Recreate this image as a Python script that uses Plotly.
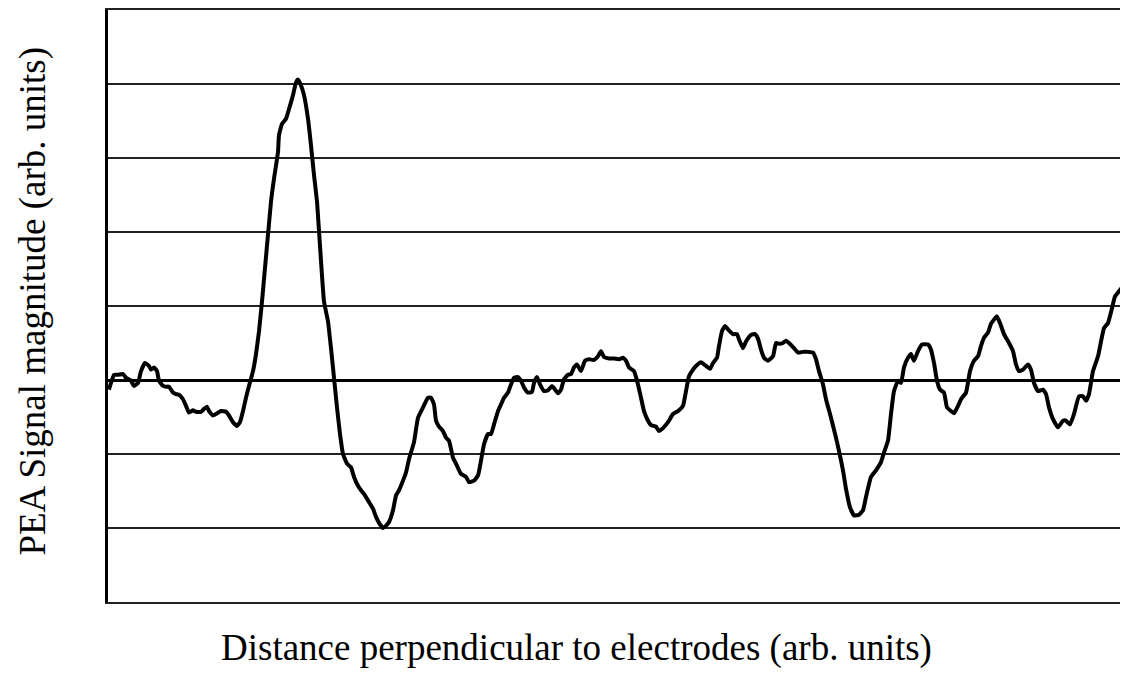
import plotly.graph_objects as go

# distance (arb. units) and PEA signal (arb. units)
distance = [
    1, 3, 6, 10, 15, 18, 23, 26, 30, 33, 37, 41, 43, 46, 49, 51, 55, 58, 61, 65,
    68, 71, 75, 78, 81, 85, 88, 93, 96, 99, 101, 105, 108, 113, 118, 121, 125, 129, 132, 135,
    138, 141, 145, 148, 151, 154, 163, 166, 170, 171, 174, 178, 181, 185, 188, 190, 193, 196, 200, 203,
    206, 209, 216, 220, 223, 226, 229, 232, 235, 239, 243, 246, 250, 253, 256, 261, 265, 268, 271, 275,
    278, 281, 285, 288, 291, 295, 298, 301, 306, 310, 315, 320, 323, 326, 328, 331, 335, 338, 341, 345,
    348, 353, 358, 361, 366, 370, 373, 376, 380, 383, 386, 390, 393, 396, 400, 403, 406, 410, 413, 416,
    420, 424, 426, 429, 432, 436, 440, 444, 446, 450, 453, 456, 460, 463, 466, 469, 473, 477, 481, 486,
    490, 493, 496, 501, 506, 511, 515, 518, 521, 526, 530, 533, 536, 540, 543, 548, 551, 555, 560, 565,
    570, 575, 578, 581, 585, 588, 593, 598, 602, 605, 609, 611, 614, 617, 621, 625, 629, 631, 635, 638,
    643, 647, 650, 653, 656, 660, 665, 668, 671, 675, 678, 681, 686, 690, 695, 700, 705, 708, 711, 715,
    718, 723, 728, 731, 735, 738, 742, 746, 751, 755, 758, 763, 768, 773, 776, 780, 783, 786, 790, 793,
    796, 800, 803, 806, 810, 814, 820, 823, 826, 829, 832, 836, 839, 843, 846, 850, 853, 858, 862, 866,
    870, 873, 876, 880, 883, 889, 892, 896, 901, 905, 908, 911, 915, 920, 923, 926, 930, 935, 938, 941,
    945, 950, 955, 958, 962, 966, 971, 975, 978, 981, 985, 990, 996, 1000, 1004, 1007, 1011, 1015, 1017, 1019,
    1021,
]
signal = [
    -0.13, -0.04, 0.07, 0.07, 0.08, 0.03, -0.01, -0.08, -0.04, 0.12, 0.23, 0.19, 0.14, 0.17, 0.12, -0.01, -0.08, -0.09, -0.09, -0.17,
    -0.19, -0.20, -0.26, -0.35, -0.44, -0.41, -0.43, -0.43, -0.39, -0.36, -0.42, -0.48, -0.46, -0.42, -0.43, -0.48, -0.57, -0.62, -0.57, -0.42,
    -0.24, -0.08, 0.12, 0.35, 0.66, 1.06, 2.41, 2.72, 3.08, 3.31, 3.46, 3.53, 3.66, 3.85, 4.02, 4.06, 3.98, 3.85, 3.53, 3.17,
    2.77, 2.41, 1.06, 0.79, 0.43, 0.03, -0.37, -0.73, -1.00, -1.13, -1.18, -1.31, -1.43, -1.49, -1.54, -1.65, -1.74, -1.85, -1.93, -2.00,
    -1.97, -1.92, -1.76, -1.56, -1.49, -1.36, -1.25, -1.07, -0.84, -0.51, -0.37, -0.24, -0.24, -0.33, -0.55, -0.63, -0.69, -0.78, -0.82, -1.05,
    -1.13, -1.27, -1.31, -1.38, -1.36, -1.29, -1.09, -0.87, -0.73, -0.73, -0.60, -0.42, -0.33, -0.24, -0.17, -0.06, 0.03, 0.04, -0.01, -0.10,
    -0.17, -0.16, -0.04, 0.04, -0.06, -0.15, -0.14, -0.08, -0.11, -0.18, -0.13, 0.01, 0.07, 0.08, 0.17, 0.21, 0.12, 0.26, 0.28, 0.27,
    0.32, 0.39, 0.31, 0.29, 0.29, 0.28, 0.30, 0.26, 0.17, 0.12, -0.06, -0.24, -0.42, -0.55, -0.61, -0.63, -0.69, -0.65, -0.57, -0.46,
    -0.42, -0.35, -0.15, 0.05, 0.14, 0.19, 0.24, 0.19, 0.15, 0.23, 0.30, 0.46, 0.66, 0.73, 0.67, 0.62, 0.62, 0.55, 0.43, 0.52,
    0.61, 0.62, 0.56, 0.41, 0.30, 0.26, 0.32, 0.50, 0.49, 0.50, 0.53, 0.50, 0.43, 0.37, 0.38, 0.38, 0.37, 0.28, 0.12, -0.06,
    -0.26, -0.51, -0.78, -0.96, -1.22, -1.47, -1.72, -1.83, -1.82, -1.76, -1.58, -1.31, -1.22, -1.11, -0.98, -0.82, -0.46, -0.15, -0.01, -0.04,
    0.17, 0.30, 0.35, 0.26, 0.39, 0.48, 0.48, 0.41, 0.23, -0.01, -0.13, -0.17, -0.37, -0.42, -0.45, -0.35, -0.26, -0.17, 0.12, 0.26,
    0.32, 0.46, 0.57, 0.64, 0.76, 0.86, 0.77, 0.62, 0.50, 0.39, 0.21, 0.12, 0.14, 0.21, 0.14, -0.04, -0.15, -0.13, -0.19, -0.37,
    -0.53, -0.64, -0.55, -0.55, -0.60, -0.46, -0.22, -0.22, -0.28, -0.19, 0.12, 0.32, 0.70, 0.77, 0.97, 1.13, 1.20, 1.27, 1.42, 1.69,
    2.30,
]

x_title = "Distance perpendicular to electrodes (arb. units)"
y_title = "PEA Signal magnitude (arb. units)"

FONT = "Liberation Serif, Times New Roman, serif"

fig = go.Figure()
fig.add_trace(go.Scatter(
    x=distance, y=signal, mode="lines",
    line=dict(color="black", width=4, shape="spline", smoothing=0.4),
    showlegend=False, hoverinfo="skip",
))

# page has an 8px body margin, so keep the figure inside the window
fig.update_layout(
    width=1112, height=663,
    margin=dict(l=100, r=0, t=2, b=69),
    paper_bgcolor="white", plot_bgcolor="white",
    font=dict(family=FONT, color="black", size=37),
)
fig.update_xaxes(
    range=[0, 1012], showgrid=False, zeroline=False,
    showticklabels=False, ticks="",
    showline=True, linecolor="#222222", linewidth=2, mirror=True,
)
fig.update_yaxes(
    range=[-3, 5], dtick=1, showgrid=True, gridcolor="#222222", gridwidth=1.5,
    zeroline=True, zerolinecolor="black", zerolinewidth=2.6,
    showticklabels=False, ticks="",
    showline=True, linecolor="black", linewidth=2.6,
)

fig.add_annotation(
    text=x_title, xref="paper", yref="paper", x=0.463, y=-0.078,
    xanchor="center", yanchor="middle", showarrow=False,
    font=dict(family=FONT, size=37, color="black"),
)
fig.add_annotation(
    text=y_title, xref="paper", yref="paper", x=-0.075, y=0.5076,
    xanchor="center", yanchor="middle", showarrow=False, textangle=-90,
    font=dict(family=FONT, size=37, color="black"),
)

fig.write_html("out.html")
